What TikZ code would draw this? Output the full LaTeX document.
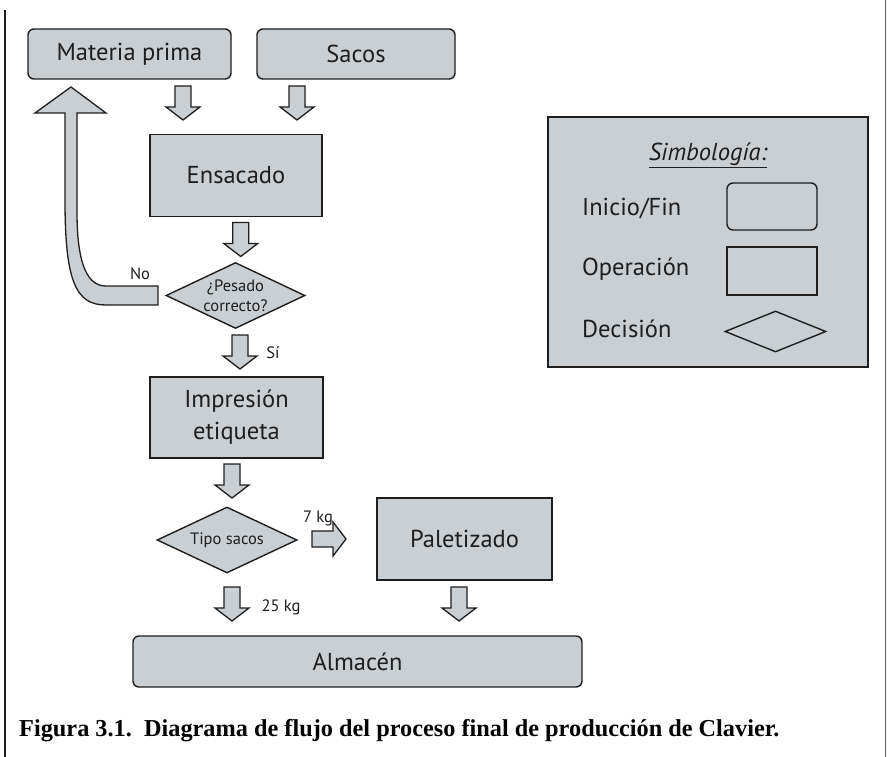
\documentclass[tikz,border=0pt]{standalone}
\usepackage{fontspec}
\setmainfont{PT Sans}
\newfontfamily\capfont{Liberation Serif}
\usetikzlibrary{shapes.geometric,calc}
\definecolor{boxfill}{HTML}{C9CFD3}
\definecolor{ink}{HTML}{1E1E1E}
\tikzset{
  base/.style={draw=ink, fill=boxfill, line width=1.4pt, inner sep=0pt, text=ink},
  bigtxt/.style={font=\fontsize{24.5}{32}\selectfont},
  smalltxt/.style={font=\fontsize{16.5}{20}\selectfont},
  term/.style={base, rounded corners=6pt, bigtxt},
  oper/.style={base, bigtxt, align=center},
  deci/.style={base, diamond},
  lbl/.style={text=ink, inner sep=0pt},
  arrowshape/.style={draw=ink, fill=boxfill, line width=1.3pt, line join=miter},
  downarr/.pic={\draw[arrowshape] (-8,-17) -- (8,-17) -- (8,4) -- (17,4) -- (0,17) -- (-17,4) -- (-8,4) -- cycle;}
}
\begin{document}
\begin{tikzpicture}[x=1pt,y=-1pt]
\useasboundingbox (0,0) rectangle (887,757);
\fill[white] (0,0) rectangle (887,757);
% page rules
\draw[ink, line width=1.2pt] (5,10) -- (5,757);
\draw[ink!70, line width=1pt] (885,0) -- (885,757);

% flow nodes
\node[term, minimum width=203, minimum height=50] (mp) at (129.5,54) {Materia prima};
\node[term, minimum width=198, minimum height=50] (sac) at (356,54) {Sacos};
\node[oper, minimum width=172, minimum height=82] (ens) at (236,175.5) {Ensacado};
\node[deci, minimum width=139, minimum height=66] (pes) at (235.5,295.5) {};
\node[lbl, smalltxt, align=center] (pest) at (pes.center) {¿Pesado\\correcto?};
\node[oper, minimum width=173, minimum height=81] (imp) at (236.5,417.5) {Impresión\\etiqueta};
\node[deci, minimum width=140, minimum height=66] (tip) at (227,540) {};
\node[lbl, smalltxt] (tipt) at (tip.center) {Tipo sacos};
\node[oper, minimum width=175, minimum height=82] (pal) at (464.5,539) {Paletizado};
\node[term, minimum width=449, minimum height=51] (alm) at (357.5,661.5) {Almacén};

% block arrows
\coordinate (a1) at (183,103);
\coordinate (a2) at (297,103);
\coordinate (a3) at ($(ens.south)!0.5!(pes.north)+(5,0)$);
\coordinate (a4) at (240,352);
\coordinate (a5) at (232,481);
\coordinate (a6) at (329,539);
\coordinate (a7) at (232,604);
\coordinate (a8) at (459,604);
\pic at (a1) {downarr};
\pic at (a2) {downarr};
\pic at (a3) {downarr};
\pic at (a4) {downarr};
\pic at (a5) {downarr};
\pic[rotate=90] at (a6) {downarr};
\pic at (a7) {downarr};
\pic at (a8) {downarr};

% return arrow "No"
\draw[arrowshape] (65,113) -- (65,200) .. controls (65,282) and (76,305) .. (106,305)
  -- (158,305) -- (158,286) -- (106,286) .. controls (89,286) and (77,268) .. (77,212)
  -- (77,113) -- (106,113) -- (71,87) -- (35,113) -- cycle;

% branch labels
\node[lbl, smalltxt] (no) at (140,274) {No};
\node[lbl, smalltxt] (si) at (273,353) {Sí};
\node[lbl, smalltxt] (k7) at (318,518) {7 kg};
\node[lbl, smalltxt] (k25) at (281,607) {25 kg};

% legend
\node[base, minimum width=320, minimum height=250] (leg) at (708,242) {};
\node[lbl, bigtxt] (legt) at (708,155) {\itshape\underline{Simbología:}};
\node[lbl, bigtxt, anchor=base west] (li) at (582,215) {Inicio/Fin};
\node[lbl, bigtxt, anchor=base west] (lo) at (582,276) {Operación};
\node[lbl, bigtxt, anchor=base west] (ld) at (582,337) {Decisión};
\node[base, rounded corners=6pt, minimum width=90, minimum height=47] (lis) at (772,206.5) {};
\node[base, minimum width=90, minimum height=48] (los) at (772,271) {};
\node[deci, minimum width=101, minimum height=41] (lds) at (775.5,331.5) {};

% caption
\node[lbl, text=black, anchor=base west, font=\capfont\bfseries\fontsize{24.3}{26}\selectfont] (cap) at (19,736)
  {Figura 3.1.\ \ Diagrama de flujo del proceso final de producción de Clavier.};
\end{tikzpicture}
\end{document}
